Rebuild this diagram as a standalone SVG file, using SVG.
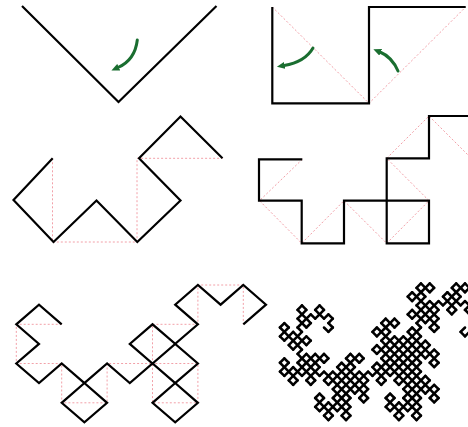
<svg xmlns="http://www.w3.org/2000/svg" xmlns:xlink="http://www.w3.org/1999/xlink" width="468" height="427" viewBox="0 0 468 427">
<style>
.curve{fill:none;stroke:#000;stroke-width:2.2;stroke-linejoin:miter;stroke-linecap:butt}
.guide{fill:none;stroke:#f2a0a8;stroke-width:1;stroke-dasharray:2 2}
.arrow{fill:none;stroke:#1a6e30;stroke-width:3;stroke-linecap:round}
</style>
<defs>
<marker id="ah" viewBox="0 0 10 9" refX="1" refY="4.5" markerWidth="8" markerHeight="7.2" markerUnits="userSpaceOnUse" orient="auto">
<path d="M0,0 L10,4.5 L0,9 z" fill="#1a6e30"/>
</marker>
<line id="d0" x1="0" y1="0" x2="1" y2="0"/>
<g id="d1"><use href="#d0" transform="matrix(.5,.5,-.5,.5,0,0)"/><use href="#d0" transform="matrix(-.5,.5,-.5,-.5,1,0)"/></g>
<g id="d2"><use href="#d1" transform="matrix(.5,.5,-.5,.5,0,0)"/><use href="#d1" transform="matrix(-.5,.5,-.5,-.5,1,0)"/></g>
<g id="d3"><use href="#d2" transform="matrix(.5,.5,-.5,.5,0,0)"/><use href="#d2" transform="matrix(-.5,.5,-.5,-.5,1,0)"/></g>
<g id="d4"><use href="#d3" transform="matrix(.5,.5,-.5,.5,0,0)"/><use href="#d3" transform="matrix(-.5,.5,-.5,-.5,1,0)"/></g>
<g id="d5"><use href="#d4" transform="matrix(.5,.5,-.5,.5,0,0)"/><use href="#d4" transform="matrix(-.5,.5,-.5,-.5,1,0)"/></g>
<g id="d6"><use href="#d5" transform="matrix(.5,.5,-.5,.5,0,0)"/><use href="#d5" transform="matrix(-.5,.5,-.5,-.5,1,0)"/></g>
<g id="d7"><use href="#d6" transform="matrix(.5,.5,-.5,.5,0,0)"/><use href="#d6" transform="matrix(-.5,.5,-.5,-.5,1,0)"/></g>
<g id="d8"><use href="#d7" transform="matrix(.5,.5,-.5,.5,0,0)"/><use href="#d7" transform="matrix(-.5,.5,-.5,-.5,1,0)"/></g>
<g id="d9"><use href="#d8" transform="matrix(.5,.5,-.5,.5,0,0)"/><use href="#d8" transform="matrix(-.5,.5,-.5,-.5,1,0)"/></g>
</defs>
<rect width="468" height="427" fill="#ffffff"/>

<g id="panel1">
<polyline class="curve" points="22,6 118.5,102 216.5,6"/>
<path class="arrow" d="M137.3,40 Q135,60 118,67.5" marker-end="url(#ah)"/>
</g>

<g id="panel2">
<polyline class="guide" points="272.3,7 369,103.3 465.7,7"/>
<polyline class="curve" points="272.3,7 272.3,103.3 369,103.3 369,7 465.7,7"/>
<path class="arrow" d="M313,48 Q305,62 284,65.5" marker-end="url(#ah)"/>
<path class="arrow" d="M398,71 Q392,57 380,52" marker-end="url(#ah)"/>
</g>

<g id="panel3">
<polyline class="guide" points="52.5,158.3 52.5,242 137,242 137,158.3 222.5,158.3"/>
<polyline class="curve" points="52.7,158.3 13.5,200 53.5,242 96.5,200.5 137.3,242 180.5,200.5 139,158.3 180.5,116.5 222.5,158.3"/>
</g>

<g id="panel4">
<polyline class="guide" points="302.3,159.3 259.5,200.7 301.7,243.3 344,200.7 386.7,243.3 429,200.7 386.7,158.3 429,116 471,158"/>
<polyline class="curve" points="302.3,159.3 259,159.3 259,200.7 301.7,200.7 301.7,243.3 344,243.3 344,200.7 386.7,200.7 386.7,243.3 429,243.3 429,200.7 386.7,200.7 386.7,158.3 429,158.3 429,116 471,116 471,158"/>
</g>

<g id="panel5">
<polyline class="guide" points="61.7,324.3 16.3,324.3 16.3,363.5 61.7,363.5 61.7,402.8 107.1,402.8 107.1,363.5 152.5,363.5 152.5,402.8 197.9,402.8 197.9,363.5 152.5,363.5 152.5,324.3 197.9,324.3 197.9,285 243.3,285 243.3,324.3"/>
<polyline class="curve" points="61.7,324.3 39,304.7 16.3,324.3 39,343.9 16.3,363.5 39,383.1 61.7,363.5 84.4,383.1 61.7,402.8 84.4,422.4 107.1,402.8 84.4,383.1 107.1,363.5 129.8,383.1 152.5,363.5 175.2,383.1 152.5,402.8 175.2,422.4 197.9,402.8 175.2,383.1 197.9,363.5 175.2,343.9 152.5,363.5 129.8,343.9 152.5,324.3 175.2,343.9 197.9,324.3 175.2,304.7 197.9,285 220.6,304.7 243.3,285 266,304.7 243.3,324.3"/>
</g>

<g id="panel6" transform="translate(324,327.5) scale(141)" fill="none" stroke="#000" stroke-width="0.41" stroke-linecap="round">
<use href="#d9"/>
</g>
</svg>
